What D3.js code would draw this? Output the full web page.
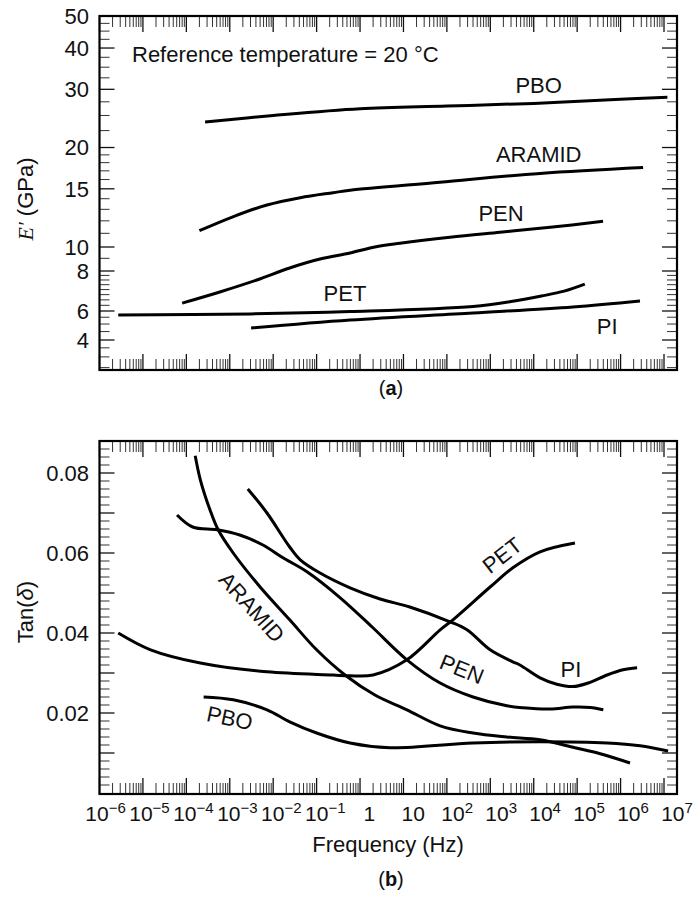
<!DOCTYPE html>
<html>
<head>
<meta charset="utf-8">
<script src="https://cdn.jsdelivr.net/npm/d3@7/dist/d3.min.js"></script>
<style>
  body { margin: 0; background: #fff; }
  text { font-family: "Liberation Sans", Arial, Helvetica, sans-serif; fill: #111; }
</style>
</head>
<body>
<svg id="chart" width="693" height="898"></svg>
<script>
// ---- Panel (a): storage modulus E' (GPa) against frequency (Hz), pairs are [Hz, GPa]
const modulusPBO    = [[2.7e-4, 23.9], [1e-2, 25.0], [1, 26.2], [100, 26.7], [1e4, 27.2], [1e6, 28.0], [1.2e7, 28.4]];
const modulusARAMID = [[2.0e-4, 11.2], [1.1e-3, 12.3], [7.2e-3, 13.4], [0.042, 14.1], [0.24, 14.6], [0.59, 14.85],
                       [69, 15.7], [1.4e4, 16.7], [3.3e6, 17.4]];
const modulusPEN    = [[8e-5, 6.35], [5.9e-4, 6.88], [4.2e-3, 7.5], [0.024, 8.23], [0.12, 8.94], [0.59, 9.46],
                       [2.2, 10.0], [8.3, 10.26], [118, 10.7], [1670, 11.08], [2.4e4, 11.47], [3.95e5, 11.96]];
const modulusPET    = [[2.7e-6, 5.68], [3e-3, 5.76], [0.59, 5.95], [400, 6.2], [3e3, 6.42], [1.5e4, 6.68],
                       [5e4, 6.92], [1.5e5, 7.28]];
const modulusPI     = [[3.1e-3, 4.73], [0.59, 5.29], [400, 5.84], [8e4, 6.18], [2.8e6, 6.45]];

// ---- Panel (b): loss tangent tan(delta) against frequency (Hz), pairs are [Hz, tan delta]
const tanARAMID = [[1.6e-4, 0.0843], [2.1e-4, 0.0783], [3.5e-4, 0.0708], [5.4e-4, 0.0658], [1.2e-3, 0.060],
                   [5e-3, 0.0515], [0.024, 0.0433], [0.10, 0.0358], [0.45, 0.0295], [2.2, 0.0245], [12, 0.0208],
                   [70, 0.0168], [400, 0.015], [2400, 0.014], [1.4e4, 0.0133], [8.9e4, 0.0113], [3.4e5, 0.0098],
                   [1.65e6, 0.0075]];
const tanPEN    = [[6.1e-5, 0.0695], [1.4e-4, 0.0665], [5.1e-4, 0.0658], [1.7e-3, 0.0645], [5.8e-3, 0.062],
                   [0.0168, 0.0588], [0.060, 0.0553], [0.35, 0.0488], [1.9, 0.0415], [12, 0.0333], [70, 0.0275],
                   [400, 0.024], [2400, 0.0218], [5700, 0.0213], [2.4e4, 0.021], [8e4, 0.0215], [2e5, 0.0214],
                   [4e5, 0.0208]];
const tanPI     = [[2.6e-3, 0.076], [7.2e-3, 0.070], [0.024, 0.0615], [0.042, 0.0583], [0.12, 0.055],
                   [0.59, 0.0513], [2.9, 0.0485], [14, 0.0465], [118, 0.0428], [290, 0.0408], [990, 0.0358],
                   [3300, 0.0328], [4800, 0.032], [1.4e4, 0.0288], [3.4e4, 0.0272], [8e4, 0.0266], [1.8e5, 0.0275],
                   [4.9e5, 0.0295], [1.14e6, 0.0308], [2.4e6, 0.0313]];
const tanPET    = [[2.7e-6, 0.040], [1.5e-5, 0.0358], [2.1e-4, 0.0325], [7.2e-3, 0.0303], [0.24, 0.0295],
                   [0.59, 0.0293], [2.0, 0.0295], [12, 0.0333], [70, 0.0408], [138, 0.0433], [990, 0.0515],
                   [3300, 0.0563], [1.4e4, 0.0603], [8.9e4, 0.0625]];
const tanPBO    = [[2.5e-4, 0.024], [1.2e-3, 0.0233], [7.2e-3, 0.0208], [0.024, 0.0178], [0.10, 0.015],
                   [0.59, 0.0125], [4.9, 0.0113], [400, 0.0125], [1.4e4, 0.0128], [4.9e5, 0.0125],
                   [2.8e6, 0.0118], [1.24e7, 0.0105]];

// ---- Tick values and labels
const freqExponents   = [-6, -5, -4, -3, -2, -1, 0, 1, 2, 3, 4, 5, 6, 7];
const modulusLabelled = [4, 6, 8, 10, 15, 20, 30, 40, 50];
const modulusMinor    = [2.5, 3, 3.5, 4.5, 5, 5.5, 6.25, 6.5, 6.75, 7, 7.25, 7.5, 7.75, 9,
                         11, 12, 13, 14, 16, 17, 18, 19, 22.5, 25, 27.5, 32.5, 35, 37.5, 42.5, 45, 47.5];
const tanLabelled     = [0.02, 0.04, 0.06, 0.08];

const svg = d3.select("#chart");
const FONT = 22;

// Shared frequency axis
const X0 = 99.5, X1 = 677;
const x = d3.scaleLog().domain([1e-6, 1e7]).range([X0, 664]);
const xLabelPos = d3.scaleLog().domain([1e-6, 1e7]).range([105.5, 677]);

// Panel geometry
const A = { top: 16, bottom: 370 };
const B = { top: 441, bottom: 794 };

// Modulus axis: the printed scale is logarithmic within each labelled interval
const yA = d3.scaleLog().domain([2.4, 4, 6, 8, 10, 50]).range([370, 340, 311, 271, 247, 16]);
const yB = d3.scaleLinear().domain([0, 0.088]).range([793, 441]);

function drawFrequencyTicks(g, top, bottom) {
  const ticks = [];
  for (let e = -6; e <= 6; e++) {
    for (let k = 1; k <= 9; k++) ticks.push({ v: k * Math.pow(10, e), major: k === 1 });
  }
  ticks.push({ v: 1e7, major: true });
  ticks.forEach(t => {
    const px = x(t.v);
    const len = t.major ? 16 : 11;
    g.append("line").attr("x1", px).attr("x2", px).attr("y1", bottom).attr("y2", bottom - len)
      .attr("stroke", t.major ? "#111" : "#333").attr("stroke-width", t.major ? 1.3 : 1);
    g.append("line").attr("x1", px).attr("x2", px).attr("y1", top).attr("y2", top + len)
      .attr("stroke", t.major ? "#111" : "#333").attr("stroke-width", t.major ? 1.3 : 1);
  });
}

function drawValueTicks(g, scale, ticks) {
  ticks.forEach(t => {
    const py = scale(t.v);
    const len = t.major ? 15 : 10;
    g.append("line").attr("x1", X0).attr("x2", X0 + len).attr("y1", py).attr("y2", py)
      .attr("stroke", t.major ? "#111" : "#333").attr("stroke-width", t.major ? 1.3 : 1);
    g.append("line").attr("x1", X1).attr("x2", X1 - len).attr("y1", py).attr("y2", py)
      .attr("stroke", t.major ? "#111" : "#333").attr("stroke-width", t.major ? 1.3 : 1);
  });
}

function drawFrame(g, p) {
  g.append("rect").attr("x", X0).attr("y", p.top).attr("width", X1 - X0).attr("height", p.bottom - p.top)
    .attr("fill", "none").attr("stroke", "#000").attr("stroke-width", 2.2);
}

function drawCurve(g, data, yScale) {
  const line = d3.line().x(d => x(d[0])).y(d => yScale(d[1])).curve(d3.curveCatmullRom.alpha(0.5));
  g.append("path").attr("d", line(data)).attr("fill", "none").attr("stroke", "#000")
    .attr("stroke-width", 3).attr("stroke-linecap", "butt").attr("stroke-linejoin", "round");
}

function annotate(g, text, f, v, yScale, angle) {
  g.append("text").attr("transform", `translate(${x(f)},${yScale(v)}) rotate(${angle})`)
    .attr("text-anchor", "middle").attr("dy", "0.36em").attr("font-size", FONT).text(text);
}

// ================= Panel (a) =================
const gA = svg.append("g");
drawFrequencyTicks(gA, A.top, A.bottom);
drawValueTicks(gA, yA, modulusLabelled.filter(v => v < 50).map(v => ({ v, major: true }))
  .concat(modulusMinor.map(v => ({ v, major: false }))));

[modulusPBO, modulusARAMID, modulusPEN, modulusPET, modulusPI].forEach(s => drawCurve(gA, s, yA));

gA.selectAll("text.ytick").data(modulusLabelled).join("text")
  .attr("class", "ytick").attr("x", 89).attr("y", d => yA(d)).attr("dy", "0.36em")
  .attr("text-anchor", "end").attr("font-size", FONT).text(d => d);

gA.append("text").attr("x", 132).attr("y", 62).attr("font-size", FONT).text("Reference temperature = 20 \u00B0C");

annotate(gA, "PBO", 1.3e4, 30.9, yA, 0);
annotate(gA, "ARAMID", 1.3e4, 19.1, yA, 0);
annotate(gA, "PEN", 1770, 12.65, yA, 0);
annotate(gA, "PET", 0.45, 6.83, yA, 0);
annotate(gA, "PI", 4.9e5, 4.86, yA, 0);

const yTitleA = gA.append("text").attr("transform", "translate(33,199) rotate(-90)")
  .attr("text-anchor", "middle").attr("font-size", FONT);
yTitleA.append("tspan").attr("font-family", "'Liberation Serif','DejaVu Serif',serif").attr("font-style", "italic").text("E\u2032");
yTitleA.append("tspan").text(" (GPa)");

drawFrame(gA, A);

const capA = svg.append("text").attr("x", 391).attr("y", 395).attr("text-anchor", "middle").attr("font-size", 20);
capA.append("tspan").text("(");
capA.append("tspan").attr("font-weight", "bold").text("a");
capA.append("tspan").text(")");

// ================= Panel (b) =================
const gB = svg.append("g");
drawFrequencyTicks(gB, B.top, B.bottom);
const tanTicks = [];
for (let i = 1; i <= 43; i++) tanTicks.push({ v: i * 0.002, major: i % 5 === 0 });
drawValueTicks(gB, yB, tanTicks);

[tanARAMID, tanPEN, tanPI, tanPET, tanPBO].forEach(s => drawCurve(gB, s, yB));

gB.selectAll("text.ytick").data(tanLabelled).join("text")
  .attr("class", "ytick").attr("x", 89).attr("y", d => yB(d)).attr("dy", "0.36em")
  .attr("text-anchor", "end").attr("font-size", FONT).text(d => d.toFixed(2));

// Frequency tick labels
freqExponents.forEach(e => {
  const t = gB.append("text").attr("x", xLabelPos(Math.pow(10, e))).attr("y", 821)
    .attr("text-anchor", "middle").attr("font-size", 21);
  if (e === 0) { t.text("1"); return; }
  if (e === 1) { t.text("10"); return; }
  t.append("tspan").text("10");
  t.append("tspan").attr("dy", -8).attr("font-size", 15).text(e < 0 ? "\u2212" + (-e) : String(e));
});

gB.append("text").attr("x", 388).attr("y", 852).attr("text-anchor", "middle").attr("font-size", FONT)
  .text("Frequency (Hz)");

annotate(gB, "ARAMID", 3.25e-3, 0.0465, yB, 48);
annotate(gB, "PET", 1860, 0.0595, yB, -38);
annotate(gB, "PEN", 223, 0.031, yB, 22);
annotate(gB, "PI", 7.2e4, 0.031, yB, 0);
annotate(gB, "PBO", 1e-3, 0.0188, yB, 12);

const yTitleB = gB.append("text").attr("transform", "translate(33,612) rotate(-90)")
  .attr("text-anchor", "middle").attr("font-size", FONT);
yTitleB.append("tspan").text("Tan(");
yTitleB.append("tspan").attr("font-style", "italic").text("\u03B4");
yTitleB.append("tspan").text(")");

drawFrame(gB, B);

const capB = svg.append("text").attr("x", 391).attr("y", 886).attr("text-anchor", "middle").attr("font-size", 20);
capB.append("tspan").text("(");
capB.append("tspan").attr("font-weight", "bold").text("b");
capB.append("tspan").text(")");
</script>
</body>
</html>
